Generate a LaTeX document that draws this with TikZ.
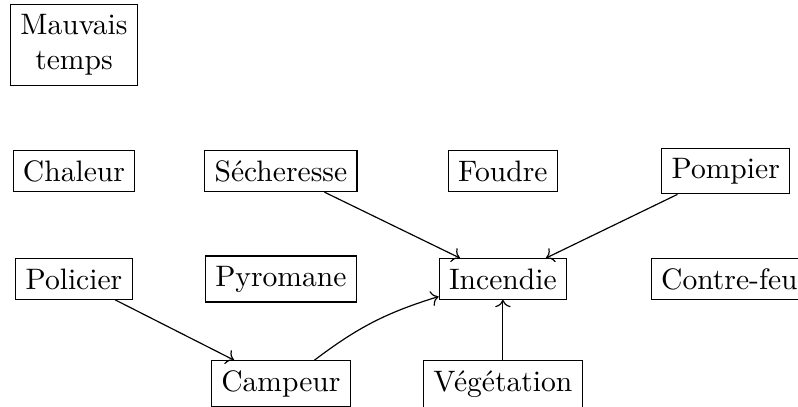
\documentclass[tikz,border=0pt]{standalone}
\usepackage{amsmath,amssymb}
\usepackage{xcolor}
\usepackage{tikz}
\usetikzlibrary{arrows.meta,calc,positioning}
\tikzset{
  factor/.style={draw,rectangle,align=center,inner sep=3.33pt},
  link/.style={->}
}

\begin{document}
\begin{tikzpicture}
\useasboundingbox (0,0) rectangle (9.48,-4.83);
\clip (0,0) rectangle (9.48,-4.83);
\node[factor] (mauvais) at (0.879,-0.534) {Mauvais\\temps};
\node[factor] (chaleur) at (0.879,-2.031) {Chaleur};
\node[factor] (secheresse) at (3.337,-2.031) {Sécheresse};
\node[factor] (foudre) at (5.974,-2.031) {Foudre};
\node[factor] (pompier) at (8.622,-2.031) {Pompier};
\node[factor] (policier) at (0.879,-3.314) {Policier};
\node[factor] (pyromane) at (3.337,-3.314) {Pyromane};
\node[factor] (incendie) at (5.974,-3.314) {Incendie};
\node[factor] (contrefeu) at (8.665,-3.314) {Contre-feu};
\node[factor] (campeur) at (3.337,-4.561) {Campeur};
\node[factor] (vegetation) at (5.974,-4.561) {Végétation};
\draw[link] (secheresse) -- (incendie);
\draw[link] (pompier) -- (incendie);
\draw[link] (policier) -- (campeur);
\draw[link] (campeur) to[bend left=10] (incendie);
\draw[link] (vegetation) -- (incendie);
\end{tikzpicture}
\end{document}
